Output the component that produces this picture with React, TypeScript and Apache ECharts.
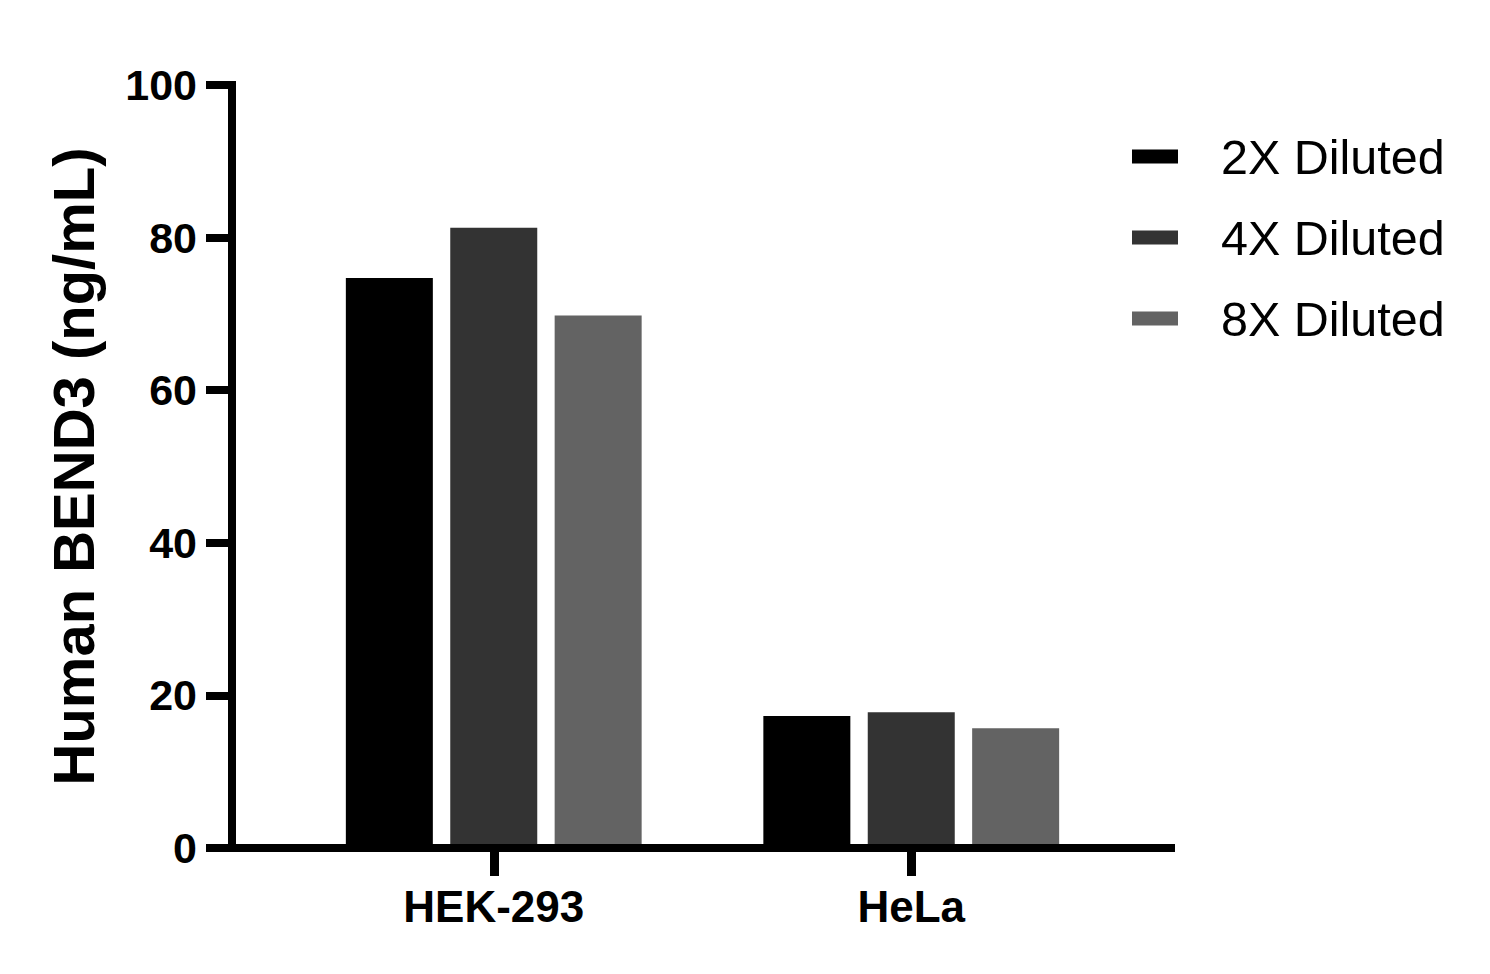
import React, { useEffect, useRef } from "react";
import * as echarts from "echarts";

const categories = ["HEK-293", "HeLa"];
const seriesNames = ["2X Diluted", "4X Diluted", "8X Diluted"];
const dil2x = [74.7, 17.3];
const dil4x = [81.3, 17.8];
const dil8x = [69.8, 15.7];
const seriesValues = [dil2x, dil4x, dil8x];
const seriesColors = ["#000000", "#333333", "#636363"];
const yMin = 0;
const yMax = 100;
const yInterval = 20;
const yTitle = "Human BEND3 (ng/mL)";

const FONT = "'Liberation Sans', Arial, Helvetica, sans-serif";

export default function App() {
  const ref = useRef<HTMLDivElement>(null);
  useEffect(() => {
    if (!ref.current) return;
    const chart = echarts.init(ref.current, null, { renderer: "svg" });
    chart.setOption({
      animation: false,
      backgroundColor: "#ffffff",
      textStyle: { fontFamily: FONT },
      legend: {
        orient: "vertical",
        left: 1132,
        top: 132,
        padding: 0,
        itemWidth: 46,
        itemHeight: 14,
        itemGap: 32,
        icon: "rect",
        data: seriesNames,
        textStyle: {
          fontFamily: FONT,
          fontSize: 48.5,
          lineHeight: 48,
          color: "#000",
          padding: [0, 0, 0, 38],
        },
      },
      grid: [
        { left: 232, right: 315, top: 85, bottom: 126, containLabel: false },
        { left: 285, right: 370, top: 85, bottom: 126, containLabel: false },
      ],
      xAxis: [
        {
          type: "value",
          gridIndex: 0,
          min: 0,
          max: 1,
          z: 10,
          axisLine: { show: true, onZero: false, lineStyle: { color: "#000", width: 8, cap: "butt" } },
          axisTick: { show: false },
          axisLabel: { show: false },
          splitLine: { show: false },
        },
        {
          type: "category",
          gridIndex: 1,
          data: categories,
          z: 10,
          axisLine: { show: false },
          axisTick: {
            show: true,
            alignWithLabel: true,
            length: 28,
            lineStyle: { color: "#000", width: 9 },
          },
          axisLabel: {
            fontFamily: FONT,
            fontSize: 44,
            fontWeight: "bold",
            color: "#000",
            margin: 36,
          },
          splitLine: { show: false },
        },
      ],
      yAxis: [
        {
          type: "value",
          gridIndex: 0,
          min: yMin,
          max: yMax,
          interval: yInterval,
          z: 10,
          name: yTitle,
          nameLocation: "middle",
          nameRotate: 90,
          nameGap: 130,
          nameTextStyle: {
            fontFamily: FONT,
            fontSize: 58,
            fontWeight: "bold",
            color: "#000",
          },
          axisLine: { show: true, lineStyle: { color: "#000", width: 8, cap: "square" } },
          axisTick: { show: true, length: 26, lineStyle: { color: "#000", width: 8 } },
          axisLabel: {
            fontFamily: FONT,
            fontSize: 43,
            fontWeight: "bold",
            color: "#000",
            margin: 35,
          },
          splitLine: { show: false },
        },
        {
          type: "value",
          gridIndex: 1,
          min: yMin,
          max: yMax,
          interval: yInterval,
          show: false,
          splitLine: { show: false },
        },
      ],
      series: seriesNames.map((name, i) => ({
        name,
        type: "bar",
        xAxisIndex: 1,
        yAxisIndex: 1,
        data: seriesValues[i],
        barWidth: 87,
        barGap: "20%",
        itemStyle: { color: seriesColors[i] },
        z: 2,
      })),
    });
    return () => chart.dispose();
  }, []);
  return (
    <div
      ref={ref}
      style={{ position: "fixed", left: 0, top: 0, width: 1490, height: 974 }}
    />
  );
}
